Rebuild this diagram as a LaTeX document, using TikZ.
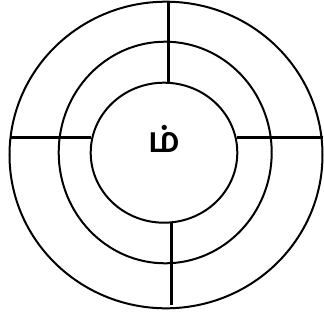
\documentclass[tikz,border=0pt]{standalone}
\usepackage{fontspec}
\newfontfamily\tamilfont[Script=Tamil]{Hind Madurai}
\begin{document}
\begin{tikzpicture}[x=1bp,y=-1bp,
  ring/.style={draw=black,line width=2bp},
  spoke/.style={draw=black,line width=3bp}]
\useasboundingbox (0,0) rectangle (324,320);
\draw[ring] (166,155) ellipse [x radius=156.5, y radius=153.3];
\draw[ring] (165.2,152.5) ellipse [x radius=106.5, y radius=110.8];
\draw[ring] (164,152.7) ellipse [x radius=73.3, y radius=70];
\draw[spoke] (168.3,1.5) -- (168.3,83);
\draw[spoke] (171,222.5) -- (171,305);
\draw[spoke] (10,137.3) -- (90.8,137.3);
\draw[spoke] (237.2,137.3) -- (322.5,137.3);
\node[font=\tamilfont\bfseries\fontsize{35}{35}\selectfont,inner sep=0] (t) at (164,139) {ம்};
\end{tikzpicture}
\end{document}
